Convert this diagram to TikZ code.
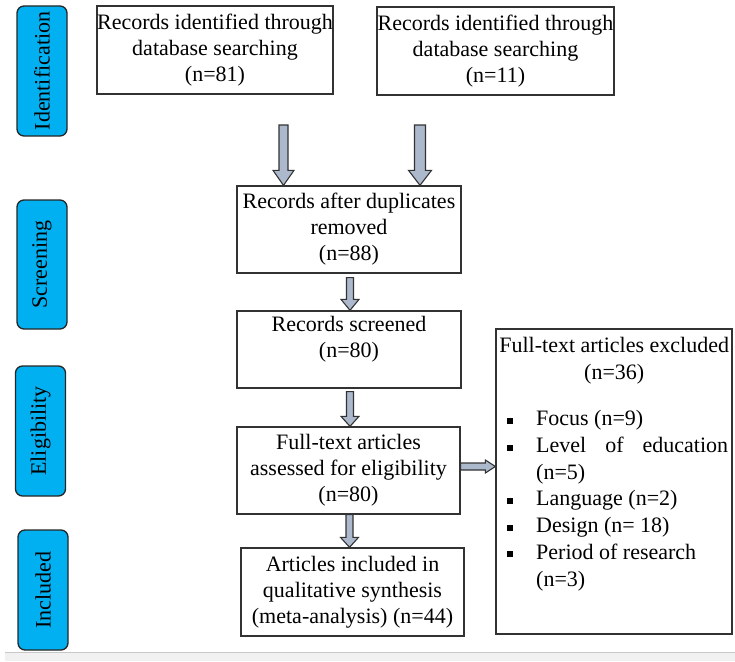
\documentclass[tikz,border=0pt]{standalone}
\usepackage{fontspec}
\setmainfont{Liberation Serif}
\usetikzlibrary{calc}
\definecolor{sidecyan}{RGB}{0,176,240}
\definecolor{arrowfill}{RGB}{172,185,204}
\definecolor{boxline}{RGB}{50,50,50}
\definecolor{stripfill}{RGB}{241,241,241}
\definecolor{stripline}{RGB}{200,200,200}
\newcommand\vblockarrow[5]{\draw[blockarrow] let \p1=#1, \p2=#2 in
  (\x1-#3,\y1) -- (\x1-#3,\y2+#5) -- (\x1-#4,\y2+#5) -- (\x1,\y2) --
  (\x1+#4,\y2+#5) -- (\x1+#3,\y2+#5) -- (\x1+#3,\y1) -- cycle;}
\newcommand\hblockarrow[5]{\draw[blockarrow] let \p1=#1, \p2=#2 in
  (\x1,\y1+#3) -- (\x2-#5,\y1+#3) -- (\x2-#5,\y1+#4) -- (\x2,\y1) --
  (\x2-#5,\y1-#4) -- (\x2-#5,\y1-#3) -- (\x1,\y1-#3) -- cycle;}
\newcommand\sqb{\makebox[37pt][l]{\hspace{8pt}\rule[2pt]{6pt}{6pt}}}
\begin{document}
\begin{tikzpicture}[x=1pt,y=-1pt,
  box/.style={draw=boxline, line width=1.3pt, inner sep=0pt, align=center,
    font=\fontsize{22}{26}\selectfont},
  side/.style={draw=black!85, line width=1.3pt, fill=sidecyan, rounded corners=7pt,
    rotate=90, inner sep=0pt, minimum height=50pt, font=\fontsize{22}{26}\selectfont},
  blockarrow/.style={draw=boxline, line width=1.1pt, fill=arrowfill, line join=miter},
  listtext/.style={inner sep=0pt, align=left, font=\fontsize{22}{26.7}\selectfont}]
\useasboundingbox (0,0) rectangle (735,661);
\fill[stripfill] (5,652) rectangle (735,661);
\draw[stripline, line width=1pt] (5,652) -- (735,652);

% side labels
\node[side, minimum width=130pt] (sid) at (42,71) {Identification};
\node[side, minimum width=129pt] (sscr) at (42,264.5) {Screening};
\node[side, minimum width=130pt] (selig) at (40.5,431) {Eligibility};
\node[side, minimum width=120pt] (sinc) at (43,590) {Included};

% boxes
\node[box, minimum width=236pt, minimum height=88pt] (b1) at (215,50)
  {Records identified through\\database searching\\(n=81)};
\node[box, minimum width=237pt, minimum height=88pt] (b2) at (495.5,51)
  {Records identified through\\database searching\\(n=11)};
\node[box, minimum width=224pt, minimum height=87pt] (b3) at (349,229.5)
  {Records after duplicates\\removed\\(n=88)};
\node[box, minimum width=224pt, minimum height=77pt] (b4) at (349,349.5)
  {Records screened\\(n=80)\\\mbox{}};
\node[box, minimum width=223pt, minimum height=87pt] (b5) at (348.5,470.5)
  {Full-text articles\\assessed for eligibility\\(n=80)};
\node[box, minimum width=223pt, minimum height=88pt] (b7) at (352.5,592)
  {Articles included in\\qualitative synthesis\\(meta-analysis) (n=44)};
\node[box, minimum width=236pt, minimum height=305pt] (b6) at (614,481.5) {};
\node[listtext, anchor=north west] (b6t) at (499,337)
  {\makebox[230pt][c]{Full-text articles excluded}\\
   \makebox[230pt][c]{(n=36)}\\[20pt]
   \sqb Focus (n=9)\\
   \sqb\makebox[192pt][s]{Level\hfill of\hfill education}\\
   \hspace*{37pt}(n=5)\\
   \sqb Language (n=2)\\
   \sqb Design (n= 18)\\
   \sqb Period of research\\
   \hspace*{37pt}(n=3)};

% arrows
\coordinate (ta1) at (283.5,125);
\coordinate (ta2) at (420,125);
\vblockarrow{(ta1)}{(ta1 |- b3.north)}{4.5pt}{10.5pt}{15pt}
\vblockarrow{(ta2)}{(ta2 |- b3.north)}{5.5pt}{11.5pt}{15pt}
\vblockarrow{($(b3.south)+(1,4)$)}{($(b4.north)+(1,0)$)}{3.5pt}{9pt}{11pt}
\vblockarrow{($(b4.south)+(1,3)$)}{($(b5.north)+(1,0)$)}{3.5pt}{9pt}{10pt}
\vblockarrow{($(b5.south)+(1,0)$)}{($(b7.north)+(-2.5,0)$)}{3.5pt}{9pt}{10pt}
\hblockarrow{($(b5.east)+(0,-4)$)}{(b6.west)}{3.5pt}{6.5pt}{10pt}
\end{tikzpicture}
\end{document}
